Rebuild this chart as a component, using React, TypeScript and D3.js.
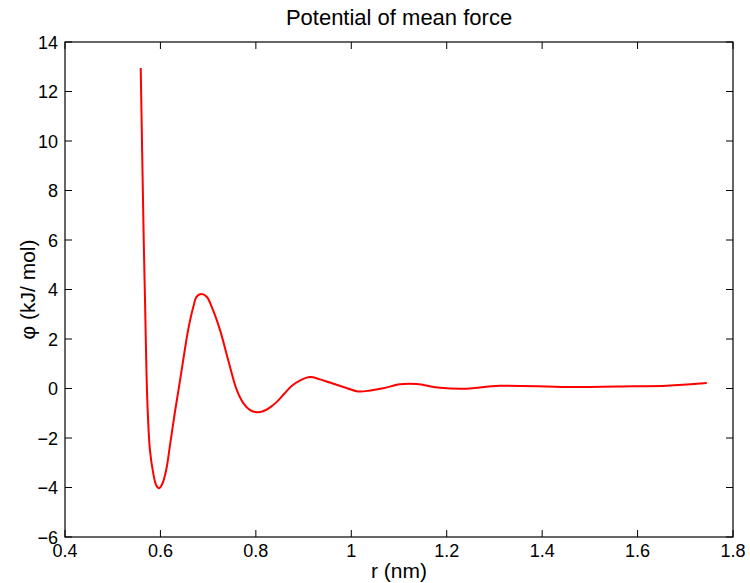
import React from "react";
import * as d3 from "d3";

const rValues = [0.5587, 0.5650, 0.5677, 0.5725, 0.5780, 0.5850, 0.5910, 0.5970, 0.6040, 0.6120, 0.6200, 0.6300, 0.6400, 0.6490, 0.6580, 0.6690, 0.6760, 0.6850, 0.6970, 0.7075, 0.7250, 0.7420, 0.7600, 0.7740, 0.7880, 0.8020, 0.8150, 0.8300, 0.8450, 0.8600, 0.8750, 0.8930, 0.9140, 0.9340, 0.9550, 0.9850, 1.0150, 1.0400, 1.0670, 1.1020, 1.1370, 1.1860, 1.2350, 1.3120, 1.4520, 1.5910, 1.6610, 1.7450];
const phiValues = [12.95, 6.0, 3.58, -0.48, -2.48, -3.43, -3.9, -4.03, -3.85, -3.3, -2.3, -1.0, 0.2, 1.3, 2.36, 3.30, 3.71, 3.82, 3.71, 3.30, 2.36, 1.15, -0.06, -0.60, -0.87, -0.96, -0.92, -0.76, -0.52, -0.2, 0.10, 0.33, 0.46, 0.37, 0.24, 0.05, -0.12, -0.08, 0.01, 0.17, 0.18, 0.03, -0.01, 0.11, 0.06, 0.09, 0.11, 0.22];
const xTicks = [0.4, 0.6, 0.8, 1, 1.2, 1.4, 1.6, 1.8];
const yTicks = [-6, -4, -2, 0, 2, 4, 6, 8, 10, 12, 14];

export default function App() {
  const W = 750, H = 583;
  const left = 65, right = 733, top = 42, bottom = 537;
  const x = d3.scaleLinear().domain([0.4, 1.8]).range([left, right]);
  const y = d3.scaleLinear().domain([-6, 14]).range([bottom, top]);
  const pts = rValues.map((r, i) => [r, phiValues[i]] as [number, number]);
  const line = d3.line<[number, number]>().x(d => x(d[0])).y(d => y(d[1])).curve(d3.curveCatmullRom.alpha(0.5));
  const font = "'Liberation Sans', Arial, Helvetica, sans-serif";
  const tl = 7;
  return (
    <svg width={W} height={H} style={{ position: "absolute", left: 0, top: 0, background: "#fff" }} fontFamily={font}>
      <rect x={0} y={0} width={W} height={H} fill="#fff" />
      <path d={line(pts) || ""} fill="none" stroke="#ff0000" strokeWidth={2} />
      <rect x={left} y={top} width={right - left} height={bottom - top} fill="none" stroke="#000" strokeWidth={1.2} />
      {xTicks.map(t => (
        <g key={"x" + t}>
          <line x1={x(t)} x2={x(t)} y1={bottom} y2={bottom - tl} stroke="#000" />
          <line x1={x(t)} x2={x(t)} y1={top} y2={top + tl} stroke="#000" />
          <text x={x(t)} y={557} fontSize={18} textAnchor="middle">{String(t)}</text>
        </g>
      ))}
      {yTicks.map(t => (
        <g key={"y" + t}>
          <line x1={left} x2={left + tl} y1={y(t)} y2={y(t)} stroke="#000" />
          <line x1={right} x2={right - tl} y1={y(t)} y2={y(t)} stroke="#000" />
          <text x={left - 7} y={y(t) + 6.5} fontSize={18} textAnchor="end">{t < 0 ? "\u2212" + Math.abs(t) : String(t)}</text>
        </g>
      ))}
      <text x={(left + right) / 2} y={25} fontSize={22} textAnchor="middle">Potential of mean force</text>
      <text x={(left + right) / 2} y={578} fontSize={21} textAnchor="middle">r (nm)</text>
      <text transform={`translate(35, ${(top + bottom) / 2}) rotate(-90)`} fontSize={21} textAnchor="middle">φ (kJ/ mol)</text>
    </svg>
  );
}
